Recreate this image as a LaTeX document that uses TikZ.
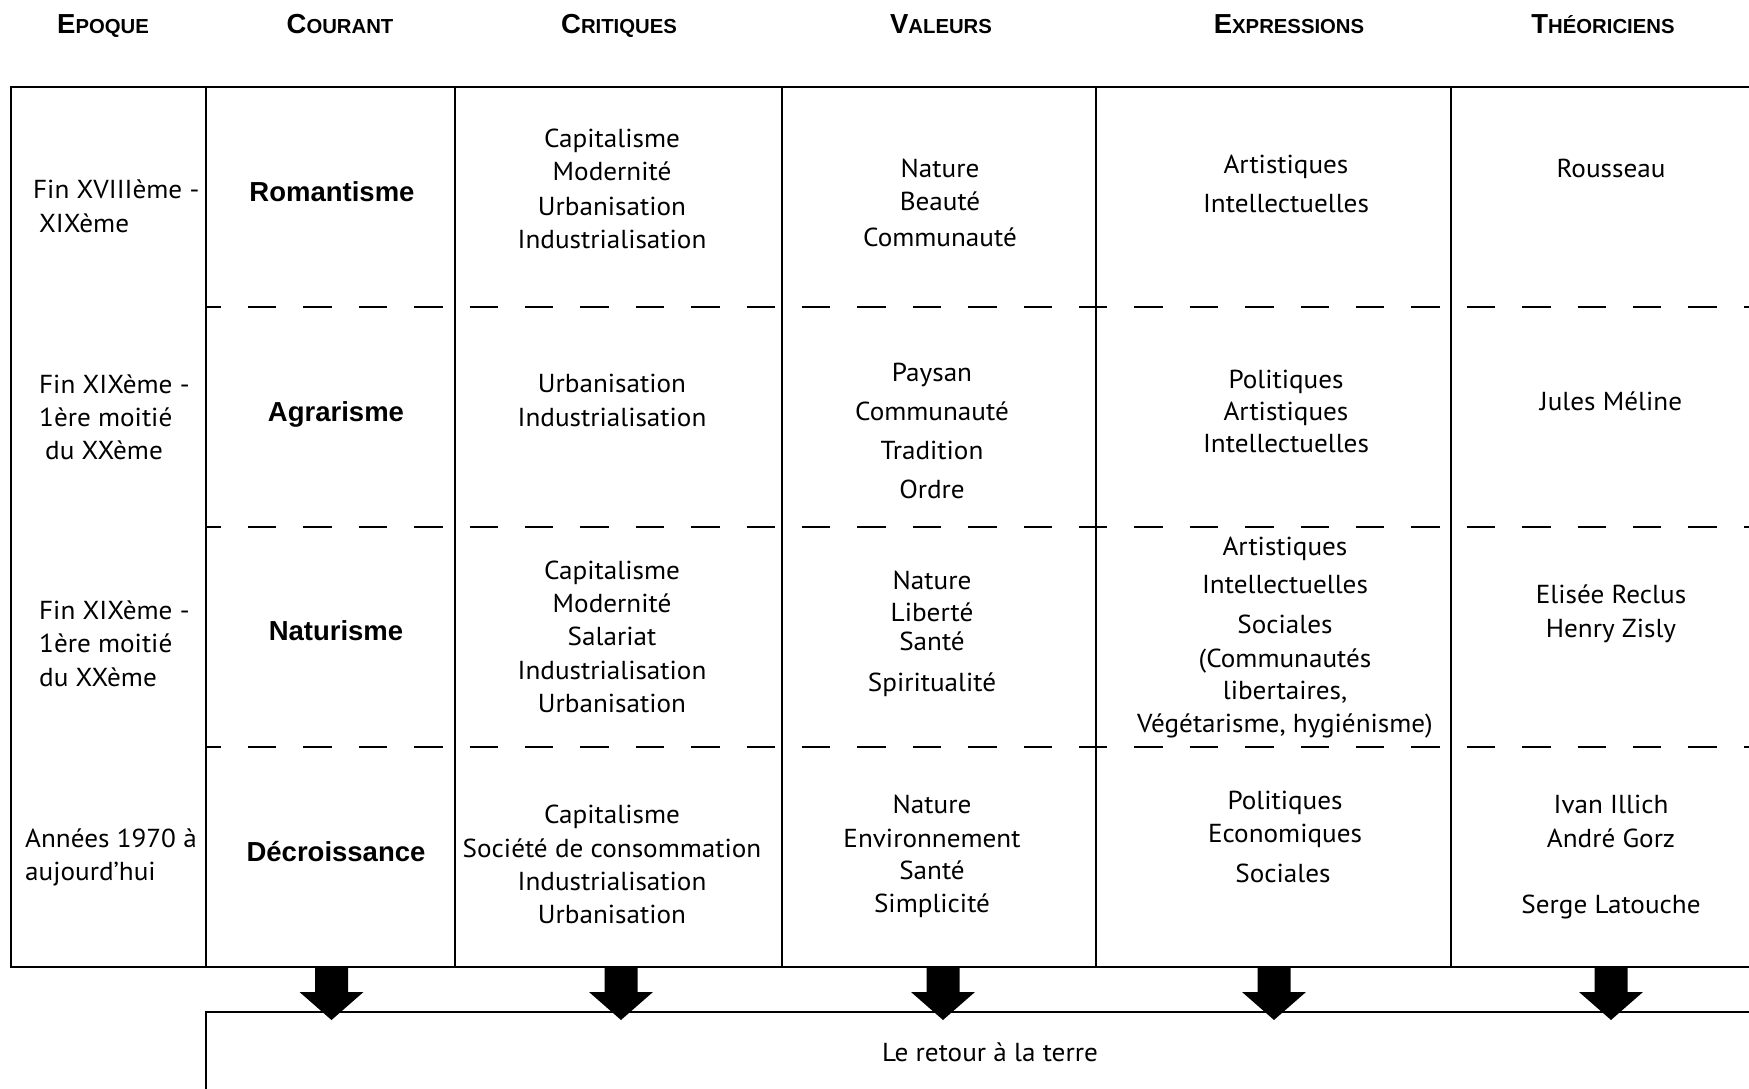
\documentclass[tikz,border=0pt]{standalone}
\usepackage{fontspec}
\setmainfont{PT Sans}[FakeStretch=1.045]
\newfontfamily\arialfont{Liberation Sans}
\newcommand\myhead[2]{{\fontsize{27.5}{30}\selectfont #1}{\fontsize{20.3}{24}\selectfont #2}}
\tikzset{
  txt/.style={inner sep=0pt, anchor=base, font=\fontsize{26}{30}\selectfont},
  ltxt/.style={txt, anchor=base west},
  cur/.style={inner sep=0pt, anchor=base, font=\arialfont\bfseries\fontsize{27.5}{33}\selectfont},
  hdr/.style={inner sep=0pt, anchor=base, font=\arialfont\bfseries},
  frame/.style={line width=2.2pt, black},
  rowsep/.style={line width=2.4pt, dash pattern=on 28.5pt off 26.9pt, dash phase=13.5pt},
  pics/blockarrow/.style={code={
    \fill[black] (-16.5,0) -- (16.5,0) -- (16.5,25) -- (32,25) -- (0,53) -- (-32,25) -- (-16.5,25) -- cycle;}}
}
\begin{document}
\begin{tikzpicture}[x=1pt,y=-1pt]
\useasboundingbox (0,0) rectangle (1749,1089);
\fill[white] (0,0) rectangle (1749,1089);

% headers
\node[hdr] (h1) at (103,34) {\myhead{E}{POQUE}};
\node[hdr] (h2) at (340,34) {\myhead{C}{OURANT}};
\node[hdr] (h3) at (619,34) {\myhead{C}{RITIQUES}};
\node[hdr] (h4) at (941,34) {\myhead{V}{ALEURS}};
\node[hdr] (h5) at (1289,34) {\myhead{E}{XPRESSIONS}};
\node[hdr] (h6) at (1603,34) {\myhead{T}{HÉORICIENS}};

% table frame
\draw[frame] (11,87) rectangle (206,967);
\draw[frame, line width=2.6pt] (206,87) -- (1749,87);
\draw[frame] (206,967) -- (1749,967);
\foreach \x in {206,455,782,1096,1451} \draw[frame] (\x,87) -- (\x,967);
\foreach \y in {307,527,747} \draw[rowsep] (206,\y) -- (1749,\y);

% row 1
\node[ltxt] (e1a) at (33,198) {Fin XVIIIème -};
\node[ltxt] (e1b) at (39,232) {XIXème};
\node[cur] (k1) at (332,201) {Romantisme};
\node[txt] (c1a) at (612,148) {Capitalisme};
\node[txt] (c1b) at (612,181) {Modernité};
\node[txt] (c1c) at (612,215) {Urbanisation};
\node[txt] (c1d) at (612,248) {Industrialisation};
\node[txt] (v1a) at (940,178) {Nature};
\node[txt] (v1b) at (940,211) {Beauté};
\node[txt] (v1c) at (940,246) {Communauté};
\node[txt] (x1a) at (1286,174) {Artistiques};
\node[txt] (x1b) at (1286,212) {Intellectuelles};
\node[txt] (t1a) at (1611,178) {Rousseau};

% row 2
\node[ltxt] (e2a) at (39,393) {Fin XIXème -};
\node[ltxt] (e2b) at (39,426) {1ère moitié};
\node[ltxt] (e2c) at (45,459) {du XXème};
\node[cur] (k2) at (336,421) {Agrarisme};
\node[txt] (c2a) at (612,392) {Urbanisation};
\node[txt] (c2b) at (612,426) {Industrialisation};
\node[txt] (v2a) at (932,381) {Paysan};
\node[txt] (v2b) at (932,420) {Communauté};
\node[txt] (v2c) at (932,459) {Tradition};
\node[txt] (v2d) at (932,498) {Ordre};
\node[txt] (x2a) at (1286,388) {Politiques};
\node[txt] (x2b) at (1286,420) {Artistiques};
\node[txt] (x2c) at (1286,452) {Intellectuelles};
\node[txt] (t2a) at (1611,410) {Jules Méline};

% row 3
\node[ltxt] (e3a) at (39,619) {Fin XIXème -};
\node[ltxt] (e3b) at (39,652) {1ère moitié};
\node[ltxt] (e3c) at (39,686) {du XXème};
\node[cur] (k3) at (336,640) {Naturisme};
\node[txt] (c3a) at (612,579) {Capitalisme};
\node[txt] (c3b) at (612,612) {Modernité};
\node[txt] (c3c) at (612,645) {Salariat};
\node[txt] (c3d) at (612,679) {Industrialisation};
\node[txt] (c3e) at (612,712) {Urbanisation};
\node[txt] (v3a) at (932,589) {Nature};
\node[txt] (v3b) at (932,621) {Liberté};
\node[txt] (v3c) at (932,650) {Santé};
\node[txt] (v3d) at (932,691) {Spiritualité};
\node[txt] (x3a) at (1285,555) {Artistiques};
\node[txt] (x3b) at (1285,593) {Intellectuelles};
\node[txt] (x3c) at (1285,633) {Sociales};
\node[txt] (x3d) at (1285,667) {(Communautés};
\node[txt] (x3e) at (1285,699) {libertaires,};
\node[txt] (x3f) at (1285,732) {Végétarisme, hygiénisme)};
\node[txt] (t3a) at (1611,603) {Elisée Reclus};
\node[txt] (t3b) at (1611,637) {Henry Zisly};

% row 4
\node[ltxt] (e4a) at (25,847) {Années 1970 à};
\node[ltxt] (e4b) at (25,880) {aujourd’hui};
\node[cur] (k4) at (336,861) {Décroissance};
\node[txt] (c4a) at (612,823) {Capitalisme};
\node[txt] (c4b) at (612,857) {Société de consommation};
\node[txt] (c4c) at (612,890) {Industrialisation};
\node[txt] (c4d) at (612,923) {Urbanisation};
\node[txt] (v4a) at (932,813) {Nature};
\node[txt] (v4b) at (932,847) {Environnement};
\node[txt] (v4c) at (932,879) {Santé};
\node[txt] (v4d) at (932,912) {Simplicité};
\node[txt] (x4a) at (1285,809) {Politiques};
\node[txt] (x4b) at (1285,842) {Economiques};
\node[txt] (x4c) at (1283,882) {Sociales};
\node[txt] (t4a) at (1611,813) {Ivan Illich};
\node[txt] (t4b) at (1611,847) {André Gorz};
\node[txt] (t4c) at (1611,913) {Serge Latouche};

% bottom box
\draw[frame] (1749,1012) -- (206,1012) -- (206,1089);
\node[txt] (ret) at (990,1061) {Le retour à la terre};

% block arrows
\foreach \x/\n in {331.5/a1,621/a2,943/a3,1274/a4,1611/a5} {
  \coordinate (\n) at (\x,967);
  \pic at (\n) {blockarrow};
}
\end{tikzpicture}
\end{document}
